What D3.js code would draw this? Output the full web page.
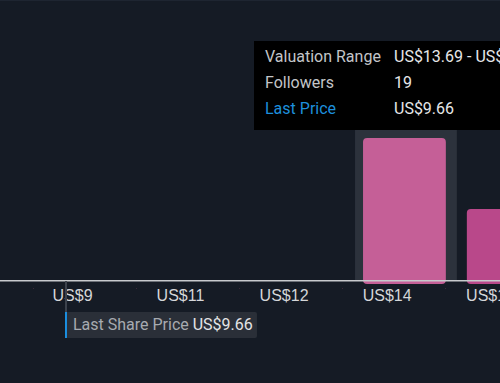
<!DOCTYPE html>
<html>
<head>
  <meta charset="UTF-8">
  <title>Valuation distribution</title>
  <script src="https://d3js.org/d3.v7.min.js"></script>
  <style>
    html, body { margin: 0; padding: 0; background: #151b25; overflow: hidden; }
    svg { display: block; font-family: Roboto, sans-serif; }
  </style>
</head>
<body>
  <div id="chart"></div>
  <script>
    // bins of fair value estimates (lower edge, upper edge) and follower counts
    const binStarts = [13.69, 15.15];
    const binEnds = [15.15, 16.61];
    const followers = [19, 9.5];
    const barColors = ["#c55f97", "#b9488a"];

    const tickValues = [9.745, 11.263, 12.72, 14.17, 15.624];
    const tickLabels = ["US$9", "US$11", "US$12", "US$14", "US$15"];
    const minorTicks = [9.196, 10.645, 12.094, 13.54, 14.99];

    const lastPrice = 9.66;
    const hovered = 0;
    const tooltipRows = [
      ["Valuation Range", "US$13.69 - US$15.15"],
      ["Followers", "19"],
      ["Last Price", "US$9.66"]
    ];

    const width = 500, height = 383;
    const axisY = 280;
    const fontSize = "16px";

    const svg = d3.select("#chart").append("svg")
      .attr("width", width)
      .attr("height", height);

    svg.append("rect").attr("width", width).attr("height", height).attr("fill", "#151b25");
    svg.append("rect").attr("width", width).attr("height", 1).attr("fill", "#1e2531");

    const x = d3.scaleLinear().domain([8.732, 15.764]).range([0, 500]);
    const y = d3.scaleLinear().domain([0, 19]).range([axisY, 138]);

    // hover band behind the active bin
    svg.append("rect")
      .attr("x", x(binStarts[hovered]) + 2.5)
      .attr("y", 130)
      .attr("width", x(binEnds[hovered]) - x(binStarts[hovered]) - 2)
      .attr("height", axisY - 130)
      .attr("fill", "#2c323c");

    svg.selectAll("rect.bar")
      .data(followers)
      .enter().append("rect")
      .attr("class", "bar")
      .attr("x", (d, i) => x(binStarts[i]) + 10.5)
      .attr("y", d => y(d))
      .attr("width", (d, i) => x(binEnds[i]) - x(binStarts[i]) - 21)
      .attr("height", d => axisY - y(d) + 4)
      .attr("rx", 4)
      .attr("fill", (d, i) => barColors[i]);

    // axis
    const axis = d3.axisBottom(x)
      .tickValues(tickValues)
      .tickFormat((d, i) => tickLabels[i])
      .tickSize(0)
      .tickPadding(10);

    const ax = svg.append("g")
      .attr("transform", `translate(0,${axisY})`)
      .call(axis);
    ax.select(".domain").remove();
    ax.selectAll("text")
      .attr("fill", "#d4d6d9")
      .style("font-size", fontSize);

    svg.selectAll("rect.minor")
      .data(minorTicks)
      .enter().append("rect")
      .attr("class", "minor")
      .attr("x", d => Math.round(x(d)))
      .attr("y", axisY + 8)
      .attr("width", 1)
      .attr("height", 1)
      .attr("fill", "#3a2a3a");

    svg.append("rect")
      .attr("x", 0).attr("y", axisY)
      .attr("width", width).attr("height", 1.5)
      .attr("fill", "#c8cacd");

    // last share price marker
    const px = x(lastPrice);
    svg.append("line")
      .attr("x1", px).attr("x2", px)
      .attr("y1", axisY + 1).attr("y2", 312)
      .attr("stroke", "#3c424c").attr("stroke-width", 2);

    const lab = svg.append("g").attr("transform", `translate(${px - 1},312)`);
    lab.append("rect")
      .attr("width", 192).attr("height", 26)
      .attr("rx", 2)
      .attr("fill", "#2a2f38");
    lab.append("rect")
      .attr("width", 2).attr("height", 26)
      .attr("fill", "#1b8fe0");
    const lt = lab.append("text")
      .attr("x", 8).attr("y", 18)
      .style("font-size", fontSize);
    lt.append("tspan").attr("fill", "#a7aab0").text("Last Share Price ");
    lt.append("tspan").attr("fill", "#e3e4e6").text("US$" + lastPrice.toFixed(2));

    // tooltip
    const tip = svg.append("g").attr("transform", "translate(254,41)");
    tip.append("rect")
      .attr("width", 300).attr("height", 89)
      .attr("fill", "#000000");
    tooltipRows.forEach((r, i) => {
      tip.append("text")
        .attr("x", 11).attr("y", 21 + i * 26)
        .attr("fill", i === 2 ? "#1d8fdc" : "#c3c5c8")
        .style("font-size", fontSize)
        .text(r[0]);
      tip.append("text")
        .attr("x", 140).attr("y", 21 + i * 26)
        .attr("fill", "#e6e7e9")
        .style("font-size", fontSize)
        .text(r[1]);
    });
  </script>
</body>
</html>
